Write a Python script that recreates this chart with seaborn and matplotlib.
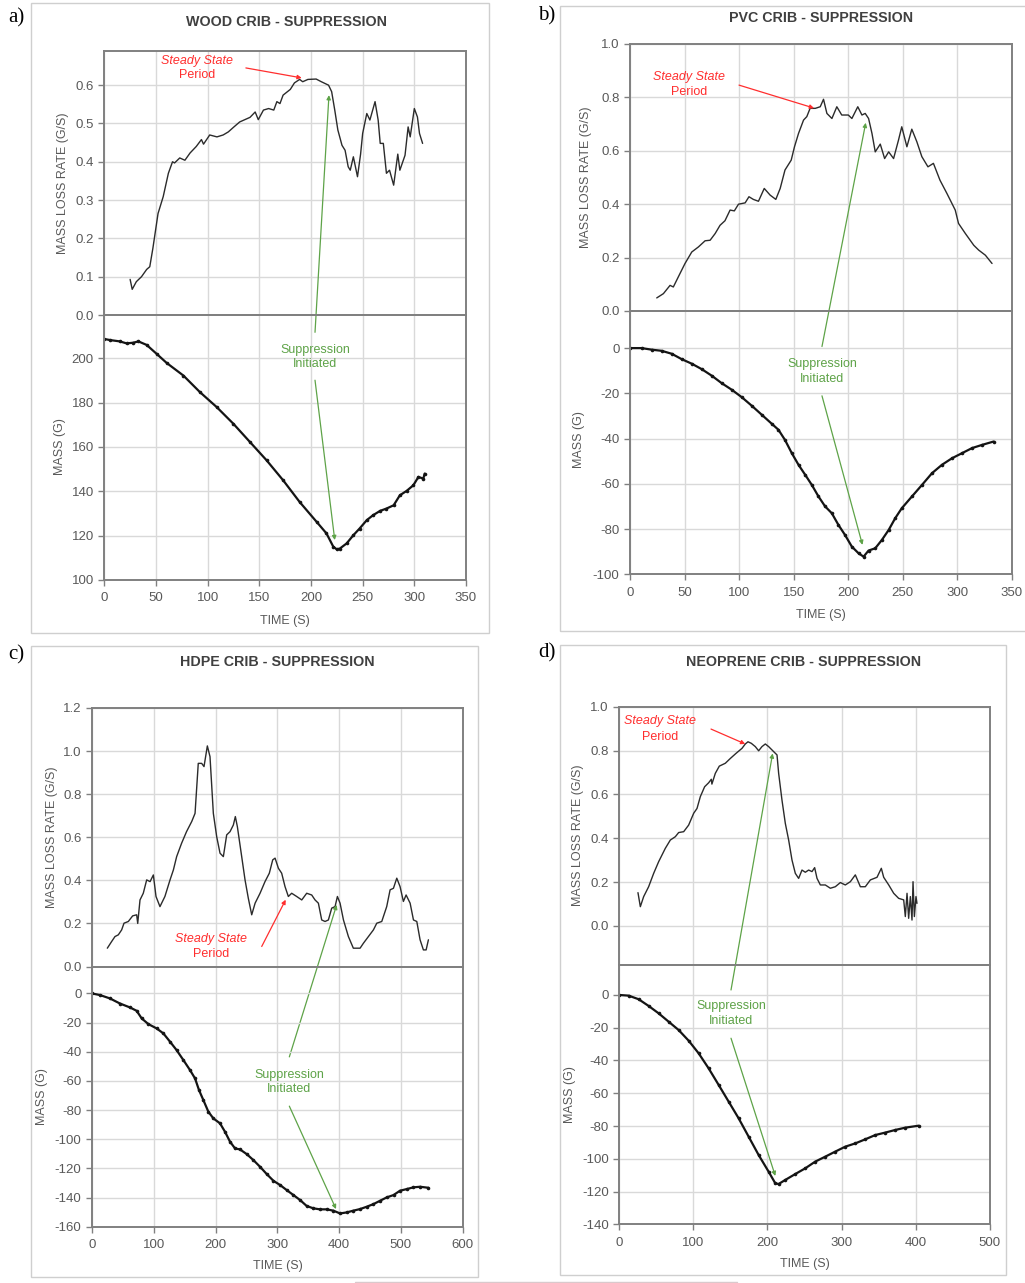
import numpy as np
import pandas as pd
import matplotlib
matplotlib.use("Agg")
import matplotlib.pyplot as plt
from matplotlib.patches import Rectangle
from matplotlib.lines import Line2D
import seaborn as sns

# ---------------- data ----------------
# (a) wood crib
wood_mlr_t = [25, 27, 31, 36, 41, 44, 47, 52, 57, 62, 66, 68, 73, 78, 83, 89, 94, 96, 102, 109,
              115, 120, 125, 131, 136, 141, 146, 149, 154, 159, 164, 167, 170, 173, 180, 184, 189, 192, 197, 205,
              210, 217, 220, 223, 226, 230, 233, 236, 238, 241, 245, 248, 250, 254, 257, 262, 265, 267, 270, 273,
              276, 280, 284, 286, 291, 294, 296, 300, 303, 305, 308]
wood_mlr = [0.093, 0.067, 0.087, 0.100, 0.119, 0.126, 0.174, 0.265, 0.309, 0.370, 0.400, 0.397, 0.410, 0.404,
            0.423, 0.440, 0.458, 0.446, 0.470, 0.465, 0.470, 0.478, 0.490, 0.504, 0.510, 0.516, 0.530, 0.510,
            0.535, 0.539, 0.535, 0.557, 0.552, 0.574, 0.589, 0.606, 0.615, 0.609, 0.615, 0.616, 0.609, 0.600,
            0.583, 0.535, 0.483, 0.443, 0.430, 0.387, 0.378, 0.413, 0.361, 0.420, 0.474, 0.526, 0.509, 0.557,
            0.509, 0.448, 0.448, 0.370, 0.378, 0.339, 0.420, 0.378, 0.417, 0.491, 0.465, 0.539, 0.517, 0.474,
            0.448]
wood_mass_t = [0, 5.5, 15, 21.6, 28, 33, 41, 50.6, 60.3, 76.5, 92.6, 108.7, 124.8, 141, 157, 173, 189, 205.5,
               215, 221.6, 225, 228, 234.5, 241, 247, 254, 260, 267, 273, 280, 286, 292.6, 299, 304, 308.7, 310]
wood_mass = [208.7, 208.2, 207.6, 206.7, 207, 207.6, 206, 202, 197.9, 192.2, 184.7, 178, 170.5, 162.2, 154,
             145, 135.2, 126.2, 121, 115, 113.8, 114.2, 116.5, 120.2, 123.2, 127, 129.2, 131.2, 132.2, 133.7,
             138.2, 140.2, 142.7, 146.5, 145.7, 148]

# (b) PVC crib
pvc_mlr_t = [24.5, 30.6, 36.7, 39.7, 44.3, 50.4, 56.6, 62.7, 68.8, 73.4, 78, 82.5, 87, 91.7, 95.6, 99.4, 105.5,
             109, 113, 117.7, 123, 128.4, 133.6, 137.6, 142, 147.7, 150.7, 154.4, 159, 162, 165, 169.8, 174.3,
             177.3, 180.4, 185, 189.5, 194, 200, 203.3, 208.7, 212.5, 215.5, 218.6, 221.7, 224.7, 229.3, 233.3,
             237, 241.5, 246, 249, 253.7, 258.2, 262.8, 267.4, 273, 278, 284, 290.4, 298, 301, 307.3, 315,
             319.5, 325.6, 331.7]
pvc_mlr = [0.049, 0.065, 0.096, 0.09, 0.128, 0.178, 0.221, 0.24, 0.263, 0.265, 0.29, 0.321, 0.338, 0.378,
           0.375, 0.4, 0.405, 0.428, 0.418, 0.411, 0.459, 0.434, 0.418, 0.459, 0.528, 0.565, 0.615, 0.665, 0.715,
           0.728, 0.759, 0.759, 0.765, 0.793, 0.74, 0.721, 0.765, 0.734, 0.734, 0.721, 0.765, 0.734, 0.74, 0.721,
           0.665, 0.596, 0.625, 0.571, 0.596, 0.571, 0.64, 0.69, 0.615, 0.681, 0.634, 0.578, 0.54, 0.553, 0.49,
           0.44, 0.378, 0.328, 0.29, 0.246, 0.228, 0.209, 0.178]
pvc_mass_t = [0, 10.7, 19.9, 29, 38.2, 47.4, 56.6, 65.7, 74.9, 84, 93.2, 102.4, 111.6, 120.8, 130, 136, 142,
              148.3, 154.4, 160.5, 166.6, 172.7, 178.8, 184.9, 191, 197, 203.3, 209.4, 214, 218.6, 224.7, 230.8,
              237, 243, 249, 258.3, 267.5, 276.7, 285.8, 295, 304, 313.4, 322.5, 333.2]
pvc_mass = [0, 0, -0.7, -1.2, -2.5, -4.9, -6.9, -9.3, -12.2, -15.5, -18.4, -21.7, -25.5, -29.5, -33.5, -36.1,
            -40.6, -46.5, -51.6, -56, -60.5, -65.6, -70, -73, -78.2, -82.6, -87.8, -90.7, -92.2, -89.5, -88.5,
            -84.8, -80.4, -75.2, -70.8, -65.6, -60.5, -55.3, -51.6, -48.7, -46.5, -44.2, -42.8, -41.3]

# (c) HDPE crib
hdpe_mlr_t = [24.8, 31.8, 37.2, 42.6, 48, 51.8, 58.8, 65.8, 72.3, 74, 77.7, 83, 88.5, 94, 99.3, 103.6, 110, 118,
              126.3, 131.7, 137, 145, 153, 161.4, 166.8, 172, 177.5, 181.3, 186.7, 191, 196.4, 201.8, 207.2,
              212.6, 218, 223.4, 228.8, 232, 235.3, 242.3, 247.7, 253, 258.5, 264, 272, 280, 287, 292.5, 296.3,
              301.7, 307, 312.4, 317.8, 323.2, 331.3, 339.5, 347.5, 355.6, 361, 366.4, 371.8, 377.2, 382.6, 388,
              393.4, 397.2, 401.5, 407, 415, 423, 433.9, 439.3, 447.4, 455.5, 460.9, 469, 477, 482.5, 487.9,
              493.3, 498.6, 504, 508.4, 514.9, 520.3, 525.7, 531, 536.4, 540.8, 544.5]
hdpe_mlr = [0.085, 0.116, 0.139, 0.147, 0.17, 0.201, 0.209, 0.235, 0.24, 0.2, 0.309, 0.34, 0.402, 0.394, 0.425,
            0.325, 0.278, 0.325, 0.402, 0.448, 0.51, 0.572, 0.626, 0.673, 0.711, 0.943, 0.943, 0.928, 1.024,
            0.974, 0.711, 0.603, 0.526, 0.51, 0.611, 0.626, 0.657, 0.696, 0.649, 0.51, 0.402, 0.317, 0.24,
            0.294, 0.34, 0.394, 0.433, 0.495, 0.503, 0.456, 0.433, 0.371, 0.325, 0.34, 0.325, 0.309, 0.34,
            0.332, 0.309, 0.294, 0.216, 0.209, 0.216, 0.271, 0.278, 0.325, 0.294, 0.216, 0.139, 0.085, 0.085,
            0.108, 0.139, 0.17, 0.201, 0.209, 0.278, 0.356, 0.363, 0.41, 0.371, 0.302, 0.332, 0.294, 0.216,
            0.209, 0.124, 0.077, 0.077, 0.124]
hdpe_mass_t = [0, 13, 29, 45.3, 61.5, 72.3, 80.4, 91.2, 104.7, 115.5, 126.3, 137, 147.9, 158.7, 166.8, 173.2,
               180.2, 188.3, 196.4, 207.2, 215.3, 223.4, 231.5, 239.6, 250.4, 261.2, 272, 282.8, 293.6, 304.4,
               315.2, 326, 336.8, 347.5, 358.3, 369, 380, 390.7, 401.5, 412.3, 423, 433.9, 444.7, 455.5, 466.3,
               477, 488, 498.6, 509.4, 520.2, 531, 544.5]
hdpe_mass = [0, -1.1, -3.4, -6.9, -9.6, -11.9, -17.1, -21, -24, -27.4, -33.1, -38.9, -45.7, -52.6, -58.3,
             -66.3, -73.1, -81.1, -85.7, -89.1, -94.9, -101.7, -106.3, -107, -110.2, -114.3, -118.9, -123.9,
             -128.5, -131.4, -134.9, -138.3, -141.7, -145.8, -147.4, -148.1, -148.1, -149, -150.9, -150.2, -149,
             -147.9, -146.3, -144.5, -142.2, -139.9, -138.3, -135.3, -134.2, -133, -132.6, -133.3]

# (d) neoprene crib
neo_mlr_t = [25.2, 28.4, 32.9, 39.6, 46.4, 53.1, 62.1, 68.9, 75.6, 80.1, 86.9, 93.6, 100.4, 104.9, 109.4, 115.2,
             120.6, 124.2, 125, 129.6, 135, 143.1, 149.9, 157.5, 165.6, 170.1, 173.7, 178.2, 183.6, 188.1, 192.6,
             197.1, 201.6, 208.4, 212.9, 215.1, 219.6, 224.1, 228.6, 233.1, 237.6, 242.1, 246.6, 251.1, 255.6,
             260.1, 263.7, 266.9, 271.4, 278.1, 284.9, 291.6, 298.4, 305.1, 311.9, 318.6, 325.4, 332.1, 338.9,
             347.9, 353.7, 356.9, 363.7, 370.4, 377.1, 383.9, 386.1, 388.4, 390.6, 392.9, 395.1, 396.5, 398.3,
             400.5, 401.8]
neo_mlr = [0.152, 0.088, 0.134, 0.179, 0.24, 0.293, 0.354, 0.392, 0.407, 0.426, 0.43, 0.46, 0.514, 0.536, 0.59,
           0.635, 0.653, 0.669, 0.647, 0.696, 0.729, 0.742, 0.764, 0.787, 0.81, 0.83, 0.84, 0.833, 0.818, 0.799,
           0.818, 0.83, 0.818, 0.795, 0.78, 0.696, 0.574, 0.468, 0.392, 0.301, 0.24, 0.217, 0.255, 0.245, 0.255,
           0.248, 0.266, 0.217, 0.187, 0.187, 0.172, 0.179, 0.198, 0.187, 0.202, 0.233, 0.179, 0.179, 0.21,
           0.222, 0.263, 0.222, 0.187, 0.149, 0.126, 0.119, 0.043, 0.149, 0.035, 0.134, 0.027, 0.202, 0.043,
           0.134, 0.103]
neo_mass_t = [0, 12.6, 26.1, 39.6, 53.1, 66.6, 80.1, 93.6, 107.1, 120.6, 134.1, 147.6, 161.1, 174.6, 188.1,
              201.6, 210.6, 215.1, 224.1, 237.6, 251.1, 264.6, 278.1, 291.6, 305.1, 318.6, 332.1, 345.6, 359.1,
              372.6, 386.1, 404.1]
neo_mass = [0, -0.4, -2.6, -6.7, -11.2, -16.3, -21.4, -27.9, -35.6, -44.8, -54.9, -65.1, -75.3, -86.5, -97.7,
            -107.9, -115, -115.4, -112.9, -109.3, -105.8, -101.7, -98.7, -95.6, -92.6, -90.6, -88.1, -85.5, -84,
            -82.4, -81, -79.8]

titles = ["WOOD CRIB - SUPPRESSION", "PVC CRIB - SUPPRESSION",
          "HDPE CRIB - SUPPRESSION", "NEOPRENE CRIB - SUPPRESSION"]
letters = ["a)", "b)", "c)", "d)"]

# ---------------- style ----------------
W, H = 1025, 1283
sns.set_theme(style="whitegrid")
plt.rcParams['font.family'] = ['Liberation Sans', 'DejaVu Sans']

GRID = '#d9d9d9'
SPINE = '#808080'
TXT = '#595959'
TITLE = '#404040'
LINE = '#2b2b2b'
DOT = '#141414'
RED = '#ff2e2e'
GREEN = '#5ea348'

fig = plt.figure(figsize=(W / 100, H / 100), dpi=100)
fig.patch.set_facecolor('white')


def rect(l, r, t, b):
    return [l / W, 1 - b / H, (r - l) / W, (b - t) / H]


def fx(x):
    return x / W


def fy(y):
    return 1 - y / H


def style_axes(ax, xlim, xticks, ylim, yticks, fmt, show_x):
    ax.set_facecolor('none')
    ax.set_xlim(xlim)
    ax.set_ylim(ylim)
    ax.set_xticks(xticks)
    ax.set_xticklabels([str(v) for v in xticks])
    ax.set_yticks(yticks)
    ax.set_yticklabels([fmt.format(v) for v in yticks])
    ax.grid(True, color=GRID, lw=1.0)
    for s in ax.spines.values():
        s.set_visible(True)
        s.set_color(SPINE)
        s.set_linewidth(1.4)
    ax.tick_params(axis='both', colors=TXT, labelsize=9.5, length=4, width=1.0,
                   direction='out', color=SPINE, left=True, bottom=True)
    ax.tick_params(axis='x', pad=5)
    if not show_x:
        ax.tick_params(axis='x', labelbottom=False, bottom=False)
    ax.set_xlabel('')
    ax.set_ylabel('')


panels = [
    dict(mlr=(wood_mlr_t, wood_mlr), mass=(wood_mass_t, wood_mass),
         frame=(31, 489, 3, 633), letter_xy=(8, 18), title_xy=(287, 22),
         box=(104.3, 466, 50.7, 315, 580), xlim=(0, 350), xticks=list(range(0, 351, 50)),
         mlr_ylim=(0, 0.69), mlr_ticks=[0, 0.1, 0.2, 0.3, 0.4, 0.5, 0.6],
         mass_ylim=(100, 219.5), mass_ticks=list(range(100, 201, 20)),
         lab_mlr=(63, 183), lab_mass=(60, 447), lab_time=(285, 621),
         ss_text=(89.7, 0.663, 0.627), ss_tail=(137, 0.645), ss_head=(191, 0.619),
         sup_text=(203.9, 200.7), up_tail=(203.9, 211.7), up_head=(217.4, 0.574),
         dn_tail=(203.9, 190.1), dn_head=(223, 118)),
    dict(mlr=(pvc_mlr_t, pvc_mlr), mass=(pvc_mass_t, pvc_mass),
         frame=(560, 1030, 6, 631), letter_xy=(538, 16), title_xy=(821, 18),
         box=(630, 1012, 44, 311, 574.3), xlim=(0, 350), xticks=list(range(0, 351, 50)),
         mlr_ylim=(0, 1.0), mlr_ticks=[0, 0.2, 0.4, 0.6, 0.8, 1.0],
         mass_ylim=(-100, 16.4), mass_ticks=list(range(-100, 1, 20)),
         lab_mlr=(586, 177), lab_mass=(579, 440), lab_time=(821, 615),
         ss_text=(54, 0.876, 0.82), ss_tail=(99.9, 0.846), ss_head=(168.6, 0.76),
         sup_text=(175.9, -10.3), up_tail=(175.9, 0.7), up_head=(216, 0.705),
         dn_tail=(175.9, -21.1), dn_head=(213, -87)),
    dict(mlr=(hdpe_mlr_t, hdpe_mlr), mass=(hdpe_mass_t, hdpe_mass),
         frame=(31, 478, 646, 1277), letter_xy=(8, 655), title_xy=(277, 662),
         box=(92, 462.7, 708, 966.5, 1226.7), xlim=(0, 600), xticks=list(range(0, 601, 100)),
         mlr_ylim=(0, 1.2), mlr_ticks=[0, 0.2, 0.4, 0.6, 0.8, 1.0, 1.2],
         mass_ylim=(-160, 18.5), mass_ticks=list(range(-160, 1, 20)),
         lab_mlr=(52, 837), lab_mass=(42, 1097), lab_time=(278, 1266),
         ss_text=(192.1, 0.128, 0.06), ss_tail=(274.7, 0.093), ss_head=(313.5, 0.31),
         sup_text=(318.9, -60.5), up_tail=(319.4, -43.5), up_head=(396, 0.286),
         dn_tail=(319.4, -77.3), dn_head=(395, -147.9)),
    dict(mlr=(neo_mlr_t, neo_mlr), mass=(neo_mass_t, neo_mass),
         frame=(560, 1006, 645, 1275), letter_xy=(538, 653), title_xy=(804, 662),
         box=(619.3, 989.7, 706.7, 965, 1224.3), xlim=(0, 500), xticks=list(range(0, 501, 100)),
         mlr_ylim=(-0.178, 1.0), mlr_ticks=[0, 0.2, 0.4, 0.6, 0.8, 1.0],
         mass_ylim=(-140, 18.3), mass_ticks=list(range(-140, 1, 20)),
         lab_mlr=(578, 835), lab_mass=(570, 1095), lab_time=(805, 1264),
         ss_text=(54.5, 0.933, 0.863), ss_tail=(123.8, 0.898), ss_head=(170, 0.83),
         sup_text=(150.8, -11.3), up_tail=(150.8, 3.05), up_head=(207, 0.787),
         dn_tail=(150.8, -26.4), dn_head=(210.6, -110.5)),
]

for i, p in enumerate(panels):
    l, r, t, b = p['frame']
    fig.add_artist(Rectangle((fx(l), fy(b)), (r - l) / W, (b - t) / H, transform=fig.transFigure,
                             fill=False, edgecolor='#cfcfcf', lw=1.0))
    fig.text(fx(p['letter_xy'][0]), fy(p['letter_xy'][1]), letters[i], fontsize=15,
             family=['Liberation Serif', 'DejaVu Serif'], ha='left', va='center', color='black')
    fig.text(fx(p['title_xy'][0]), fy(p['title_xy'][1]), titles[i], fontsize=10.3,
             fontweight='bold', color=TITLE, ha='center', va='center')

    pl, pr, pt, pm, pb = p['box']
    ax_top = fig.add_axes(rect(pl, pr, pt, pm))
    ax_bot = fig.add_axes(rect(pl, pr, pm, pb))

    mlr_df = pd.DataFrame({'time': p['mlr'][0], 'rate': p['mlr'][1]})
    mass_df = pd.DataFrame({'time': p['mass'][0], 'mass': p['mass'][1]})

    sns.lineplot(data=mlr_df, x='time', y='rate', ax=ax_top, color=LINE, lw=1.0,
                 estimator=None, sort=False)
    sns.lineplot(data=mass_df, x='time', y='mass', ax=ax_bot, color=DOT, lw=1.6,
                 estimator=None, sort=False, marker='o', markersize=2.6, markeredgewidth=0)

    style_axes(ax_top, p['xlim'], p['xticks'], p['mlr_ylim'], p['mlr_ticks'], '{:.1f}', False)
    style_axes(ax_bot, p['xlim'], p['xticks'], p['mass_ylim'], p['mass_ticks'], '{:.0f}', True)

    fig.text(fx(p['lab_mlr'][0]), fy(p['lab_mlr'][1]), 'MASS LOSS RATE (G/S)', rotation=90,
             fontsize=9, color=TXT, ha='center', va='center')
    fig.text(fx(p['lab_mass'][0]), fy(p['lab_mass'][1]), 'MASS (G)', rotation=90,
             fontsize=9, color=TXT, ha='center', va='center')
    fig.text(fx(p['lab_time'][0]), fy(p['lab_time'][1]), 'TIME (S)',
             fontsize=9, color=TXT, ha='center', va='center')

    # steady state period callout
    sx, sy1, sy2 = p['ss_text']
    ax_top.text(sx, sy1, 'Steady State', color=RED, style='italic', fontsize=9,
                ha='center', va='center')
    ax_top.text(sx, sy2, 'Period', color=RED, fontsize=9, ha='center', va='center')
    ax_top.annotate('', xy=p['ss_head'], xytext=p['ss_tail'], annotation_clip=False,
                    arrowprops=dict(arrowstyle='-|>', color=RED, lw=0.9, mutation_scale=6,
                                    shrinkA=0, shrinkB=0))

    # suppression callout
    ax_bot.text(p['sup_text'][0], p['sup_text'][1], 'Suppression\nInitiated', color=GREEN,
                fontsize=9, ha='center', va='center', linespacing=1.25)
    ax_top.annotate('', xy=p['up_head'], xycoords='data', xytext=p['up_tail'],
                    textcoords=ax_bot.transData, annotation_clip=False,
                    arrowprops=dict(arrowstyle='-|>', color=GREEN, lw=0.9, mutation_scale=6,
                                    shrinkA=0, shrinkB=0))
    ax_bot.annotate('', xy=p['dn_head'], xytext=p['dn_tail'], annotation_clip=False,
                    arrowprops=dict(arrowstyle='-|>', color=GREEN, lw=0.9, mutation_scale=6,
                                    shrinkA=0, shrinkB=0))

fig.add_artist(Line2D([fx(355), fx(737)], [fy(1281.5), fy(1281.5)], transform=fig.transFigure,
                      color='#d9c9cc', lw=1.0))

fig.savefig('out.png', dpi=100, facecolor='white')
